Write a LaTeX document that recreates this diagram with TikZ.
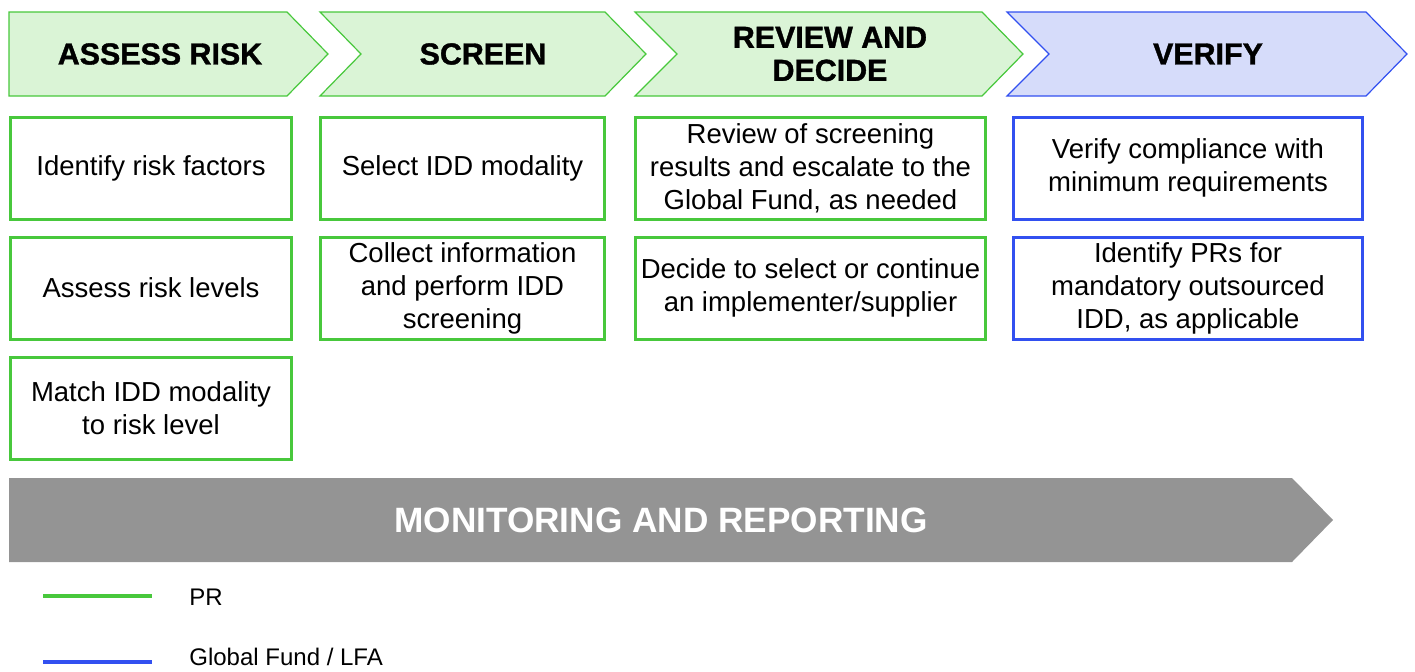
\documentclass[tikz,border=0pt]{standalone}
\usepackage{fontspec}
\setmainfont{Liberation Sans}
\newfontfamily\headfont[FakeBold=1.2]{Liberation Sans Bold}
\usetikzlibrary{positioning}
\definecolor{prgreen}{RGB}{72,200,60}
\definecolor{prfill}{RGB}{218,244,214}
\definecolor{gfblue}{RGB}{50,80,240}
\definecolor{gffill}{RGB}{214,220,250}
\definecolor{mrgray}{RGB}{148,148,148}

\begin{document}
\begin{tikzpicture}[
                    x=0.5pt,
                    y=-0.5pt,
                    task/.style={
                        rectangle,
                        draw=prgreen,
                        line width=1.5pt,
                        inner sep=0pt,
                        minimum height=51pt,
                        align=center,
                        font=\fontsize{13.75}{16.5}\selectfont
                    },
                    lfatask/.style={task, draw=gfblue},
                    phase/.style={draw=prgreen, fill=prfill, line width=0.6pt},
                    lfaphase/.style={phase, draw=gfblue, fill=gffill},
                    heading/.style={
                        align=center,
                        font=\headfont\fontsize{15.2}{16.5}\selectfont
                    },
                    legend/.style={
                        anchor=west,
                        inner sep=0pt,
                        font=\fontsize{12}{14}\selectfont
                    },
                    node distance=60pt
                ]
                \useasboundingbox (0,0) rectangle (1415,671);
                \newcommand{\mkphase}[7]{
                    \draw[#6] (#2,12) -- (#3-41,12) -- (#3,54) -- (#3-41,96)
                        -- (#2,96) -- (#2+#4,54) -- cycle;
                    \node (#1) [heading] at (#5,54) {#7};
                }
                \newcommand{\mktask}[4]{
                    \node (#1) [#2,#3] {#4};
                }
                \mkphase{ASSESS}{9}{328}{0}{160}{phase}{ASSESS RISK}
                \mkphase{SCREEN}{320}{646}{41}{483}{phase}{SCREEN}
                \mkphase{REVIEW}{635}{1023}{42}{830}{phase}{REVIEW AND\\DECIDE}
                \mkphase{VERIFY}{1007}{1407}{42}{1208}{lfaphase}{VERIFY}

                \mktask{AR1}{task}{minimum width=140.5pt, at={(151,168)}}{Identify risk factors}
                \mktask{AR2}{task}{minimum width=140.5pt, below of=AR1}{Assess risk levels}
                \mktask{AR3}{task}{minimum width=140.5pt, below of=AR2}{Match IDD modality\\to risk level}

                \mktask{SC1}{task}{minimum width=142pt, at={(462.5,168)}}{Select IDD modality}
                \mktask{SC2}{task}{minimum width=142pt, below of=SC1}{Collect information\\and perform IDD\\screening}

                \mktask{RD1}{task}{minimum width=175pt, at={(810.5,168)}}{Review of screening\\results and escalate to the\\Global Fund, as needed}
                \mktask{RD2}{task}{minimum width=175pt, below of=RD1}{Decide to select or continue\\an implementer/supplier}

                \mktask{VF1}{lfatask}{minimum width=174.5pt, at={(1188,168)}}{Verify compliance with\\minimum requirements}
                \mktask{VF2}{lfatask}{minimum width=174.5pt, below of=VF1}{Identify PRs for\\mandatory outsourced\\IDD, as applicable}

                \fill[mrgray] (9,478) -- (1292,478) -- (1333,520) -- (1292,562) -- (9,562) -- cycle;
                \node (MONITOR) [text=white, font=\fontsize{17.6}{20}\selectfont\bfseries] at (661,520) {MONITORING AND REPORTING};

                \coordinate (PRa) at (43,596);
                \coordinate (PRb) at (152,596);
                \coordinate (GFa) at (43,662);
                \coordinate (GFb) at (152,662);
                \draw[prgreen, line width=2.25pt] (PRa) -- (PRb);
                \draw[gfblue, line width=2.25pt] (GFa) -- (GFb);
                \node (PR) [legend] at (189,597) {PR};
                \node (GFLFA) [legend] at (189,657) {Global Fund / LFA};
            \end{tikzpicture}
\end{document}
